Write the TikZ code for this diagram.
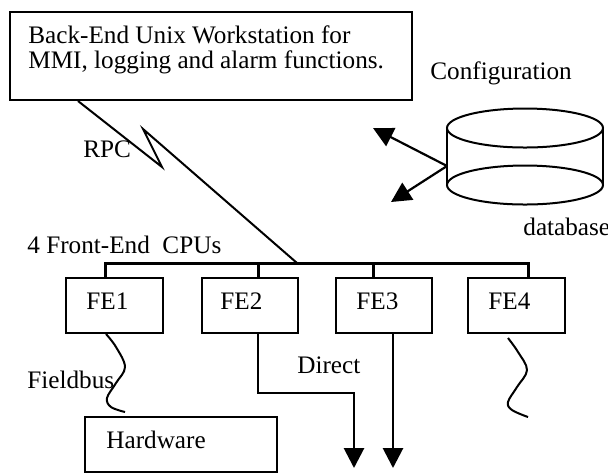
\documentclass[tikz,border=0pt]{standalone}
\usepackage{fontspec}
\setmainfont{Liberation Serif}
\usetikzlibrary{arrows.meta, fit}
\tikzset{
  box/.style  ={draw, line width=1pt, inner sep=0pt},
  lbl/.style  ={anchor=base west, inner sep=0pt,
                font=\fontsize{12.6}{12.5}\selectfont},
  link/.style ={line width=1pt},
  bus/.style  ={line width=1.5pt, line cap=rect},
  feed/.style ={-{Triangle[length=10pt, width=10pt]}, line width=1.4pt},
  wave/.style ={line width=1pt, line join=round},
}

\begin{document}
\begin{tikzpicture}[x=0.5pt, y=-0.5pt]
\useasboundingbox (0,0) rectangle (608,473);

% --- back-end workstation ---
\node[box, fit={(10,12) (412,100)}] (ws) {};
\node[lbl, align=left] (wsText) at (28,68)
     {Back-End Unix Workstation for\\MMI, logging and alarm functions.};

% --- configuration database ---
\node[lbl] (cfgText) at (430,79) {Configuration};
\draw[link] (525,128) ellipse [x radius=39pt, y radius=9.75pt];
\draw[link] (525,185) ellipse [x radius=39pt, y radius=9.75pt];
\draw[link] (447,128) -- (447,185) (603,128) -- (603,185);
\node[lbl] (dbText) at (523,235) {database};
\coordinate (db) at (447,166);
\coordinate (cfgA) at (373,128);
\coordinate (cfgB) at (391,202);
\draw[feed, line width=1.1pt] (db) -- (cfgA);
\draw[feed, line width=1.1pt] (db) -- (cfgB);

% --- front-end CPUs ---
\node[lbl] (feText) at (27,253) {4 Front-End~ CPUs};
\node[box, fit={(66,278) (163,333)}]  (fe1) {};
\node[box, fit={(202,278) (298,333)}] (fe2) {};
\node[box, fit={(336,278) (432,333)}] (fe3) {};
\node[box, fit={(468,278) (565,333)}] (fe4) {};
\node[lbl] (fe1Text) at (86,309)  {FE1};
\node[lbl] (fe2Text) at (220,309) {FE2};
\node[lbl] (fe3Text) at (356,309) {FE3};
\node[lbl] (fe4Text) at (488,309) {FE4};

% --- RPC link and bus ---
\coordinate (rpc) at (297,263);
\node[lbl] (rpcText) at (83,157) {RPC};
\draw[link] (78,0 |- ws.south) -- (162,167) -- (143,129) -- (rpc);
\draw[bus] (105,0 |- rpc) -- (528,0 |- rpc);
\foreach \fe/\x in {fe1/105, fe2/258, fe3/373, fe4/528}
  \draw[bus] (\x,0 |- rpc) -- (\x,0 |- \fe.north);

% --- fieldbus and hardware ---
\node[box, fit={(85,417) (277,472)}] (hw) {};
\node[lbl] (hwText) at (106,448) {Hardware};
\node[lbl] (fbText) at (27,388) {Fieldbus};
\draw[wave] plot[smooth, tension=0.6] coordinates
  {(106,334) (116,347) (125,367) (116,383) (107,398) (111,407) (125,412)};
\draw[wave] plot[smooth, tension=0.6] coordinates
  {(508,338) (518,352) (527,370) (517,387) (508,402) (512,410) (528,417)};

% --- direct lines ---
\node[lbl] (dirText) at (297,373) {Direct};
\coordinate (out2) at (354,468);
\coordinate (out3) at (393,468);
\draw[feed] (258,0 |- fe2.south) |- (out2 |- 0,393) -- (out2);
\draw[feed] (393,0 |- fe3.south) -- (out3);

\end{tikzpicture}
\end{document}
